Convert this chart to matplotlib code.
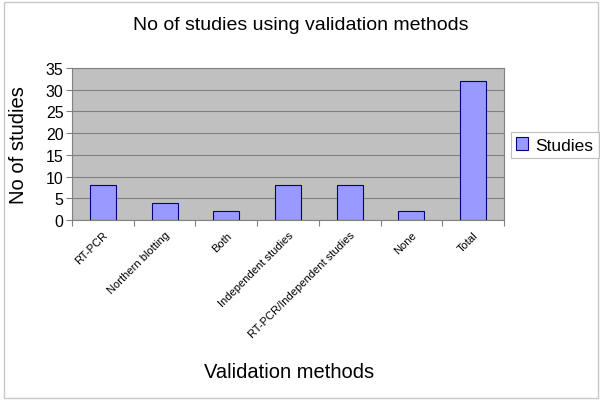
import matplotlib
matplotlib.use("Agg")
import matplotlib.pyplot as plt
from matplotlib.patches import Rectangle

categories = ["RT-PCR", "Northern blotting", "Both", "Independent studies",
              "RT-PCR/Independent studies", "None", "Total"]
studies = [8, 4, 2, 8, 8, 2, 32]
yticks = [0, 5, 10, 15, 20, 25, 30, 35]

plt.rcParams['font.family'] = ['Liberation Sans', 'DejaVu Sans']

fig = plt.figure(figsize=(6.0, 4.02), dpi=100)
fig.patch.set_facecolor('white')
# outer frame
fig.add_artist(Rectangle((4/600, 3/402), 594/600, 396/402, transform=fig.transFigure,
                         fill=False, edgecolor='#c8c8c8', linewidth=1.0))

ax = fig.add_axes([72/600, 1 - 221/402, 432/600, 152/402])
ax.set_facecolor('#c0c0c0')
x = list(range(len(categories)))
ax.bar(x, studies, width=0.42, color='#9999ff', edgecolor='#000080', linewidth=0.8,
       label='Studies', zorder=3)
ax.set_xlim(-0.5, len(categories) - 0.5)
ax.set_ylim(0, 35)
ax.set_yticks(yticks)
ax.set_yticklabels([str(v) for v in yticks], fontsize=11.5)
ax.yaxis.grid(True, color='#808080', linewidth=0.8, zorder=1)
ax.set_axisbelow(True)
for s in ax.spines.values():
    s.set_color('#808080')
    s.set_linewidth(0.8)

ax.set_xticks([i + 0.5 for i in range(-1, len(categories))], minor=False)
ax.set_xticklabels([''] * (len(categories) + 1))
ax.tick_params(axis='x', length=4, color='#808080')
ax.tick_params(axis='y', length=4, color='#808080', pad=2)
ax.set_xticks(x, minor=True)
ax.set_xticklabels(categories, minor=True, rotation=45, ha='right',
                   rotation_mode='anchor', fontsize=8)
ax.tick_params(axis='x', which='minor', length=0, pad=7)

ax.set_ylabel('No of studies', fontsize=14.5, labelpad=6)
ax.yaxis.set_label_coords(-44/432, 0.5)
fig.text(289/600, 1 - 373/402, 'Validation methods', fontsize=14.5, ha='center', va='center')
fig.text(301/600, 1 - 25/402, 'No of studies using validation methods', fontsize=14,
         ha='center', va='center')

leg = fig.legend(loc='center left', bbox_to_anchor=(511/600, 1 - 146/402), fontsize=12.5,
                 frameon=True, fancybox=False, edgecolor='#b0b0b0', handlelength=0.7,
                 handleheight=0.7, handletextpad=0.4, borderpad=0.3, borderaxespad=0)
leg.get_frame().set_linewidth(0.8)

fig.savefig('out.png', dpi=100)
